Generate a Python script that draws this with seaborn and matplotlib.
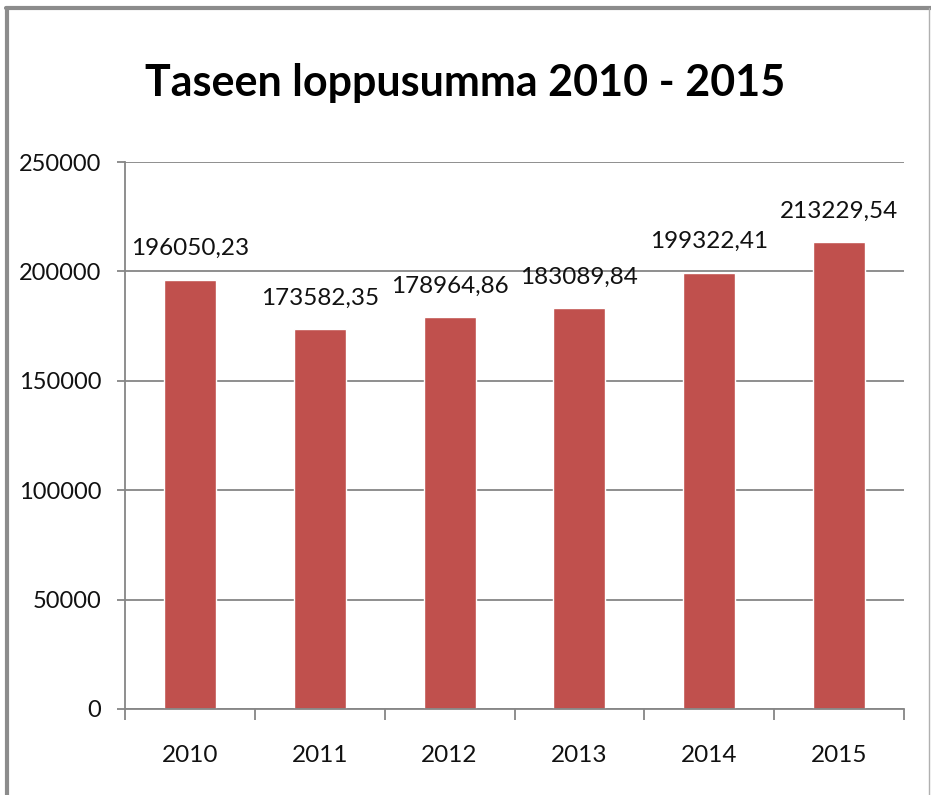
import numpy as np
import pandas as pd
import matplotlib
matplotlib.use('Agg')
import matplotlib.pyplot as plt
from matplotlib.lines import Line2D
import seaborn as sns

# Data
years = ['2010', '2011', '2012', '2013', '2014', '2015']
totals = [196050.23, 173582.35, 178964.86, 183089.84, 199322.41, 213229.54]
y_ticks = [0, 50000, 100000, 150000, 200000, 250000]

df = pd.DataFrame({'Vuosi': years, 'Taseen loppusumma': totals})

sns.set_theme(style="white")
plt.rcParams['font.family'] = ['Lato', 'DejaVu Sans']

bar_color = '#C0504D'
grid_color = '#868686'
text_color = '#111111'

fig = plt.figure(figsize=(9.31, 7.95), dpi=100)
ax = fig.add_axes([0.1343, 0.1082, 0.8367, 0.688])

sns.barplot(data=df, x='Vuosi', y='Taseen loppusumma', color=bar_color,
            width=0.4, saturation=1, ax=ax)

ax.set_ylim(0, 250000)
ax.set_xlim(-0.5, len(years) - 0.5)
ax.set_yticks(y_ticks)
ax.set_yticklabels([str(t) for t in y_ticks])
ax.set_xlabel('')
ax.set_ylabel('')

# gridlines
ax.grid(axis='y', color=grid_color, linewidth=1.3)
ax.set_axisbelow(True)

for side in ['top', 'right']:
    ax.spines[side].set_visible(False)
for side in ['left', 'bottom']:
    ax.spines[side].set_color(grid_color)
    ax.spines[side].set_linewidth(1.3)

# tick marks between categories
ax.set_xticks(np.arange(-0.5, len(years), 1), minor=True)
ax.tick_params(axis='x', which='minor', length=8, width=1.3, color=grid_color, direction='out', bottom=True)
ax.tick_params(axis='x', which='major', length=0, pad=26, labelsize=17.5, labelcolor=text_color)
ax.tick_params(axis='y', which='major', length=6, width=1.3, color=grid_color, direction='out', left=True,
               pad=11, labelsize=17, labelcolor=text_color)

# data labels
for i, v in enumerate(totals):
    label = f"{v:.2f}".replace('.', ',')
    ax.annotate(label, (i, v), xytext=(0, 15), textcoords='offset points',
                ha='center', va='bottom', fontsize=17.5, color=text_color)

fig.text(0.50, 0.895, 'Taseen loppusumma 2010 - 2015', ha='center', va='center',
         fontsize=31, fontweight='bold', color='black')

# chart frame
fig.add_artist(Line2D([0.0075, 0.0075], [0, 0.99], transform=fig.transFigure, color='#8c8c8c', linewidth=3))
fig.add_artist(Line2D([0.006, 1.0], [0.99, 0.99], transform=fig.transFigure, color='#8c8c8c', linewidth=3))
fig.add_artist(Line2D([0.998, 0.998], [0, 0.99], transform=fig.transFigure, color='#b0b0b0', linewidth=1))

plt.savefig('out.png', dpi=100)
plt.close()
